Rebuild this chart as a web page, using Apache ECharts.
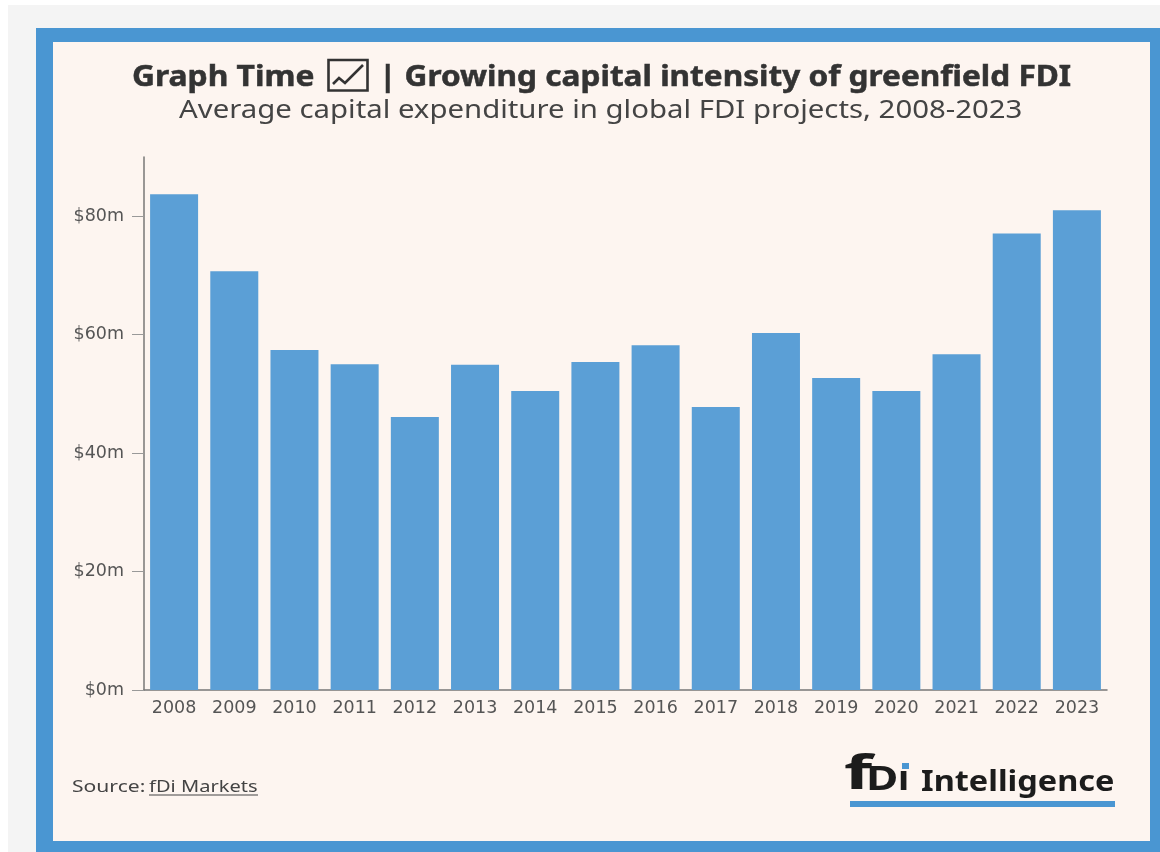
<!DOCTYPE html>
<html><head><meta charset="utf-8">
<style>html,body{margin:0;padding:0;background:#fff;overflow:hidden}#c{width:1160px;height:852px}</style>
<script src="https://cdn.jsdelivr.net/npm/echarts@6/dist/echarts.min.js"></script>
</head><body><div id="c"></div>
<script>
const categories = ['2008','2009','2010','2011','2012','2013','2014','2015','2016','2017','2018','2019','2020','2021','2022','2023'];
const capex = [83.7,70.7,57.4,55.0,46.1,54.9,50.5,55.4,58.2,47.8,60.3,52.7,50.5,56.7,77.1,81.0];
const titleLeft = 'Graph Time';
const titleRight = '| Growing capital intensity of greenfield FDI';
const subtitle = 'Average capital expenditure in global FDI projects, 2008-2023';
const sourceLabel = 'Source:';
const sourceLink = 'fDi Markets';
const FONT = '"Noto Sans"';
const TICKFONT = '"DejaVu Sans"';
const BLUE = '#4a96d2', BAR = '#5b9fd6', INK = '#333333', AXIS = '#777777', LABEL = '#555555';
function stretched(x, y, sx, text, font, fill, heavy){
  const style = {x:0,y:0,text:text,font:font,fill:fill,textAlign:'left',textVerticalAlign:'middle'};
  if (heavy) { style.stroke = fill; style.lineWidth = heavy; }
  return {type:'text',x:x,y:y,scaleX:sx,originX:0,originY:0,style:style};
}
const chart = echarts.init(document.getElementById('c'), null, {renderer:'canvas'});
chart.setOption({
  animation:false,
  backgroundColor:'#ffffff',
  grid:{left:144,right:53,top:157,bottom:162,containLabel:false},
  xAxis:{type:'category',data:categories,
    axisLine:{lineStyle:{color:AXIS,width:1.5}},
    axisTick:{alignWithLabel:true,length:5,lineStyle:{color:'#999999'}},
    axisLabel:{color:LABEL,fontFamily:TICKFONT,fontSize:17.5,margin:9}},
  yAxis:{type:'value',min:0,max:90,interval:20,
    axisLine:{show:true,lineStyle:{color:AXIS,width:1.5}},
    axisTick:{show:true,length:12,lineStyle:{color:'#999999'}},
    splitLine:{show:false},
    axisLabel:{color:LABEL,fontFamily:TICKFONT,fontSize:17.5,margin:20,padding:[3,0,0,0],formatter:v=>'$'+v+'m',showMaxLabel:false}},
  series:[{type:'bar',data:capex,barWidth:48,itemStyle:{color:BAR},z:3}],
  graphic:[
    {type:'rect',z:-10,silent:true,shape:{x:8,y:5,width:1152,height:847},style:{fill:'#f4f4f4'}},
    {type:'rect',z:-9,silent:true,shape:{x:36,y:28,width:1124,height:824},style:{fill:BLUE}},
    {type:'rect',z:-8,silent:true,shape:{x:53,y:42,width:1097,height:799},style:{fill:'#fdf5f0'}},
    stretched(132,78,1.135,titleLeft,'bold 28px '+FONT,INK,0.5),
    {type:'rect',shape:{x:328.5,y:60,width:39,height:30.5},style:{fill:'none',stroke:INK,lineWidth:2.6}},
    {type:'polyline',shape:{points:[[333,84],[339,78],[345,83],[363,65]]},style:{fill:'none',stroke:INK,lineWidth:2.6}},
    stretched(379,78,1.128,titleRight,'bold 28px '+FONT,INK,0.5),
    stretched(179,111,1.174,subtitle,'25px '+FONT,'#444444'),
    stretched(72,787,1.24,sourceLabel,'17px '+FONT,'#444444'),
    stretched(149,787,1.18,sourceLink,'17px '+FONT,'#444444'),
    {type:'line',shape:{x1:149,y1:795,x2:258,y2:795},style:{stroke:'#444444',lineWidth:1.2}},
    stretched(844,775.5,1.55,'f','bold 47px '+FONT,'#1c1c1c'),
    stretched(866,780,1.3,'D','bold 34px '+FONT,'#1c1c1c'),
    stretched(898,780,1.1,'ı','bold 34px '+FONT,'#1c1c1c'),
    {type:'rect',shape:{x:902,y:763,width:7,height:6},style:{fill:BLUE}},
    stretched(921,783,1.12,'Intelligence','bold 29px '+FONT,'#1c1c1c'),
    {type:'rect',shape:{x:850,y:801,width:265,height:6},style:{fill:BLUE}}
  ]
});
</script></body></html>
